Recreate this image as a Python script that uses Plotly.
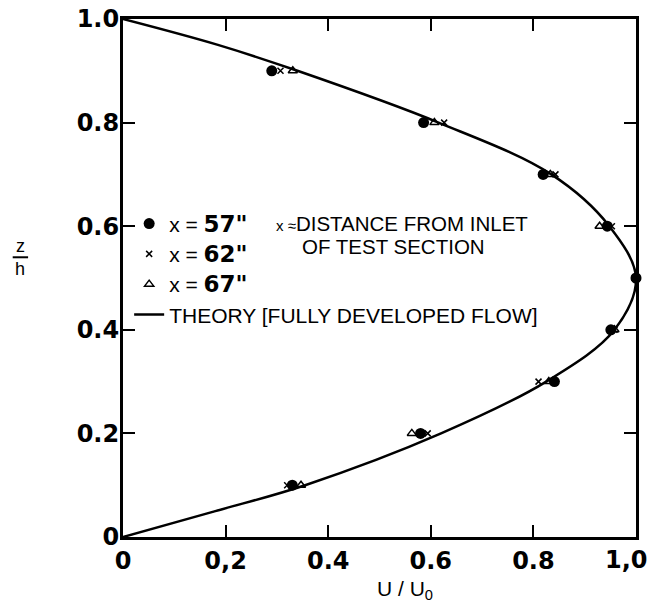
import plotly.graph_objects as go

# Measured velocity profiles at three stations downstream of the inlet
z_pts = [0.9, 0.8, 0.7, 0.6, 0.5, 0.4, 0.3, 0.2, 0.1]
u_57 = [0.29, 0.586, 0.819, 0.944, 1.0, 0.951, 0.841, 0.58, 0.33]
u_62 = [0.307, 0.626, 0.843, 0.953, 0.998, 0.958, 0.81, 0.594, 0.32]
u_67 = [0.331, 0.607, 0.833, 0.929, 1.0, 0.958, 0.83, 0.563, 0.347]

# Fully developed flow profile
z_theory = [0.0, 0.05, 0.1, 0.2, 0.3, 0.4, 0.5, 0.6, 0.7, 0.8, 0.9, 0.95, 1.0]
u_theory = [0.0, 0.18, 0.355, 0.62, 0.825, 0.958, 1.0, 0.948, 0.835, 0.615, 0.34, 0.185, 0.0]

x_tickvals = [0, 0.2, 0.4, 0.6, 0.8, 1.0]
x_ticktext = ["0", "0,2", "0.4", "0.6", "0.8", "1,0"]
y_tickvals = [0, 0.2, 0.4, 0.6, 0.8, 1.0]
y_ticktext = ["0", "0.2", "0.4", "0.6", "0.8", "1.0"]

FONT = "Liberation Sans, Arial, Helvetica, sans-serif"
WIDE = "DejaVu Sans, Verdana, sans-serif"
TICKFONT = dict(family=WIDE, size=24, color="black", weight="bold")
big = '<span style="font-family:DejaVu Sans;font-size:23px"><b>{}</b></span>'

fig = go.Figure()
fig.add_trace(go.Scatter(
    x=u_57, y=z_pts, mode="markers", name="x = " + big.format('57"'),
    marker=dict(symbol="circle", size=11, color="black"), cliponaxis=False))
fig.add_trace(go.Scatter(
    x=u_62, y=z_pts, mode="markers", name="x = " + big.format('62"'),
    marker=dict(symbol="x-thin", size=6, color="black",
                line=dict(width=1.5, color="black")), cliponaxis=False))
fig.add_trace(go.Scatter(
    x=u_67, y=z_pts, mode="markers", name="x = " + big.format('67"'),
    marker=dict(symbol="triangle-up-open", size=8, color="black",
                line=dict(width=1.5, color="black")), cliponaxis=False))
fig.add_trace(go.Scatter(
    x=u_theory, y=z_theory, mode="lines", name="THEORY [FULLY DEVELOPED FLOW]",
    line=dict(color="black", width=2.5, shape="spline", smoothing=1.0)))

axis_common = dict(
    range=[0, 1], showgrid=False, zeroline=False,
    showline=True, linecolor="black", linewidth=3, mirror="ticks",
    ticks="inside", ticklen=12, tickwidth=1.5, tickcolor="black",
    tickfont=TICKFONT, automargin=False,
)

fig.update_layout(
    width=651, height=606,
    margin=dict(l=123, r=15, t=19, b=69),
    paper_bgcolor="white", plot_bgcolor="white",
    font=dict(family=FONT, color="black"),
    # the last x label is drawn separately so it can sit flush with the page edge
    xaxis=dict(tickvals=x_tickvals, ticktext=x_ticktext[:-1] + [""], **axis_common),
    yaxis=dict(tickvals=y_tickvals, ticktext=y_ticktext, ticklabelstandoff=-4,
               ticklabeloverflow="allow", **axis_common),
    showlegend=True,
    legend=dict(
        x=0.012, y=0.644, xanchor="left", yanchor="top",
        bgcolor="rgba(0,0,0,0)", borderwidth=0,
        font=dict(family=FONT, size=21, color="black"),
        itemwidth=30,
    ),
)

fig.add_annotation(
    xref="x", yref="paper", x=x_tickvals[-1], y=0, xanchor="right", yanchor="middle",
    xshift=14, yshift=-23, text=x_ticktext[-1], showarrow=False, font=TICKFONT)

# Note on what x stands for
fig.add_annotation(
    xref="paper", yref="paper", x=0.294, y=0.605, xanchor="left", yanchor="middle",
    text='<span style="font-size:15px">x ≈</span>DISTANCE FROM INLET',
    showarrow=False, font=dict(family=FONT, size=20.5, color="black"))
fig.add_annotation(
    xref="paper", yref="paper", x=0.345, y=0.561, xanchor="left", yanchor="middle",
    text="OF TEST SECTION",
    showarrow=False, font=dict(family=FONT, size=20.5, color="black"))

# Axis titles
fig.add_annotation(
    xref="paper", yref="paper", x=0.55, y=0, yshift=-53, xanchor="center", yanchor="middle",
    text="U / U<sub>0</sub>", showarrow=False,
    font=dict(family=FONT, size=21, color="black"))
fig.add_annotation(
    xref="paper", yref="paper", x=-0.2, y=0.561, xanchor="center", yanchor="middle",
    text="z", showarrow=False, font=dict(family=FONT, size=18, color="black"))
fig.add_annotation(
    xref="paper", yref="paper", x=-0.2, y=0.518, xanchor="center", yanchor="middle",
    text="h", showarrow=False, font=dict(family=FONT, size=18, color="black"))
fig.add_shape(
    type="line", xref="paper", yref="paper", x0=-0.215, x1=-0.185, y0=0.54, y1=0.54,
    line=dict(color="black", width=2))

fig.write_html("out.html")
